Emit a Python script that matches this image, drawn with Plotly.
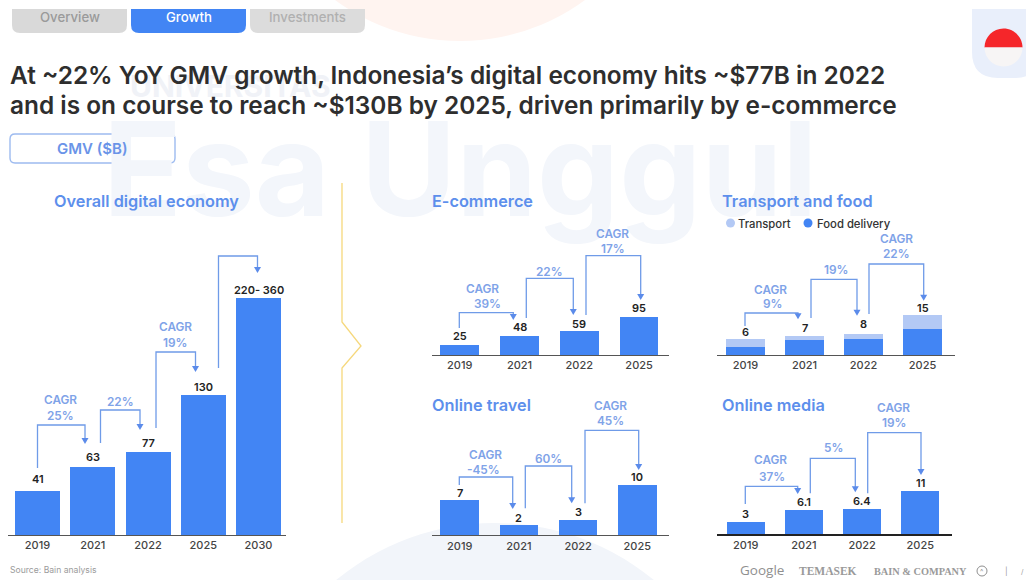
import plotly.graph_objects as go

W, H = 1026, 580
FONT = "Inter"
BLUE = "#4285f4"
LIGHT = "#b3c9f5"
CONN = "#6f9be8"
LABEL = "#7fa3e8"
HEAD = "#5b8bea"
INK = "#2e2e2e"

# ---- values ----
years_overall = ["2019", "2021", "2022", "2025", "2030"]
years_sector = ["2019", "2021", "2022", "2025"]

overall_gmv = [41, 63, 77, 130, 220]
overall_labels = ["41", "63", "77", "130", "220- 360"]
ecommerce_gmv = [25, 48, 59, 95]
ecommerce_labels = ["25", "48", "59", "95"]
food_delivery_gmv = [2.9, 5.7, 6.2, 9.7]
transport_gmv = [3.1, 1.3, 1.8, 5.3]
transport_food_labels = ["6", "7", "8", "15"]
travel_gmv = [7, 2, 3, 10]
travel_labels = ["7", "2", "3", "10"]
media_gmv = [3, 6.1, 6.4, 11]
media_labels = ["3", "6.1", "6.4", "11"]

headline = [
    "At ~22% YoY GMV growth, Indonesia’s digital economy hits ~$77B in 2022",
    "and is on course to reach ~$130B by 2025, driven primarily by e-commerce",
]
tab_names = ["Overview", "Growth", "Investments"]


def px(x):
    return x / W


def py(y):
    return 1 - y / H


shapes = []
annotations = []


def text(x, y, s, size=11, color=INK, anchor="center", weight=400, family=FONT, **kw):
    annotations.append(dict(
        x=px(x), y=py(y), xref="paper", yref="paper", text=s, showarrow=False,
        xanchor=anchor, yanchor="middle", borderpad=0, borderwidth=0,
        font=dict(size=size, color=color, family=family, weight=weight), **kw))


def path(points, close=False):
    d = "M" + " L".join(f"{px(x):.5f},{py(y):.5f}" for x, y in points)
    return d + (" Z" if close else "")


def pt(x, y):
    return f"{px(x):.5f},{py(y):.5f}"


def rounded_bottom(x0, x1, y0, y1, r=8):
    return (f"M{pt(x0, y0)} L{pt(x1, y0)} L{pt(x1, y1 - r)} Q{pt(x1, y1)} {pt(x1 - r, y1)} "
            f"L{pt(x0 + r, y1)} Q{pt(x0, y1)} {pt(x0, y1 - r)} Z")


def rounded_box(x0, x1, y0, y1, r=5):
    return (f"M{pt(x0 + r, y0)} L{pt(x1 - r, y0)} Q{pt(x1, y0)} {pt(x1, y0 + r)} L{pt(x1, y1 - r)} "
            f"Q{pt(x1, y1)} {pt(x1 - r, y1)} L{pt(x0 + r, y1)} Q{pt(x0, y1)} {pt(x0, y1 - r)} "
            f"L{pt(x0, y0 + r)} Q{pt(x0, y0)} {pt(x0 + r, y0)} Z")


def half_disc(cx, cy, r, sign):
    k = 0.5523 * r
    tip = cy + sign * r
    return (f"M{pt(cx - r, cy)} C{pt(cx - r, cy + sign * k)} {pt(cx - k, tip)} {pt(cx, tip)} "
            f"C{pt(cx + k, tip)} {pt(cx + r, cy + sign * k)} {pt(cx + r, cy)} Z")


def add_shape(**kw):
    kw.setdefault("xref", "paper")
    kw.setdefault("yref", "paper")
    kw.setdefault("layer", "below")
    shapes.append(kw)


def circle(cx, cy, r, fill, line=None, layer="below"):
    add_shape(type="circle", x0=px(cx - r), x1=px(cx + r), y0=py(cy + r), y1=py(cy - r),
              fillcolor=fill, line=dict(width=1 if line else 0, color=line or fill), layer=layer)


# ---- page backdrop ----
circle(460, -170, 211, "#fff4f0")
circle(495, 773, 250, "#f2f5fa")
add_shape(type="path", path=rounded_bottom(972, 1040, 9, 78, r=26), fillcolor="#e9effb",
          line=dict(width=0))
text(130, 86, "UNIVERSITAS", size=30, color="#f0f2f7", anchor="left", weight=700)
text(460, 168, "Esa Unggul", size=130, color="#f3f6fb", weight=700)

# Tabs along the top edge
tab_x = [(12, 127), (131, 246), (250, 365)]
tab_fill = ["#d9d9d9", BLUE, "#dcdcdc"]
tab_ink = ["#9a9a9a", "#ffffff", "#b0b0b0"]
for name, (x0, x1), fill, ink in zip(tab_names, tab_x, tab_fill, tab_ink):
    add_shape(type="path", path=rounded_bottom(x0, x1, 9, 33), fillcolor=fill, line=dict(width=0))
    text((x0 + x1) / 2, 16.5, name, size=13.2, color=ink, weight=500)

# Flag badge
add_shape(type="path", path=half_disc(1003.5, 47.5, 19, -1), fillcolor="#f5262a", line=dict(width=0))
add_shape(type="path", path=half_disc(1003.5, 47.5, 19, 1), fillcolor="#f7f5f5", line=dict(width=0))

# Headline
text(10, 75, headline[0], size=24.4, color=INK, anchor="left", weight=600)
text(10, 105, headline[1], size=24.4, color=INK, anchor="left", weight=600)

# Unit box
add_shape(type="path", path=rounded_box(10, 175, 134, 163), fillcolor="#ffffff",
          line=dict(width=1.4, color="#9dbbf0"))
text(92.5, 148, "GMV ($B)", size=15, color="#6a94e8", weight=600)

# Divider with chevron between the overall panel and the sector panels
add_shape(type="path", path=path([(342, 183), (342, 322), (361, 346), (342, 368), (342, 523)]),
          line=dict(width=1.3, color="#f6d87c"))

# Sources and partner marks
text(10, 570, "Source: Bain analysis", size=8.6, color="#9b9b9b", anchor="left")
text(740, 570, "Google", size=13.5, color="#8f8f8f", anchor="left", family="Open Sans")
text(799, 571, "TEMASEK", size=11.5, color="#9a9a9a", anchor="left", family="Liberation Serif", weight=700)
text(874, 571, "BAIN &amp; COMPANY", size=10.3, color="#9a9a9a", anchor="left", family="Liberation Serif", weight=700)
circle(982, 571, 5, "rgba(255,255,255,0)", line="#8f8f8f", layer="above")
text(982, 571, "^", size=7, color="#8f8f8f")
text(1006, 571, "|", size=8, color="#9a9a9a")
text(1022, 571, "/", size=7, color="#9a9a9a")

# ---- chart panels ----
# left/right: axis-line extent, c0/step: first bar centre and spacing, base: baseline,
# scale: pixels per $B, top: plot top edge, barw: bar width (pixels).
panels = [
    dict(title="Overall digital economy", tx=54, ty=201, left=8, right=286, c0=37.5, step=55.25,
         base=535, scale=1.077, top=250, barw=45, years=years_overall,
         series=[(overall_gmv, BLUE)], labels=overall_labels, gaps=[12, 10, 9, 8, 8.5],
         axis="#555555", axisw=1.2),
    dict(title="E-commerce", tx=432, ty=201, left=431.7, right=669, c0=459.7, step=59.8,
         base=355, scale=0.4, top=230, barw=38.7, years=years_sector,
         series=[(ecommerce_gmv, BLUE)], labels=ecommerce_labels, gaps=[8.8, 8.8, 7.7, 9.5],
         axis="#555555", axisw=1.2),
    dict(title="Transport and food", tx=722, ty=201, left=717.3, right=955.3, c0=745.5, step=59,
         base=355, scale=2.65, top=230, barw=39, years=years_sector,
         series=[(food_delivery_gmv, BLUE), (transport_gmv, LIGHT)], labels=transport_food_labels,
         gaps=[7, 8.7, 9.7, 7.3], axis="#555555", axisw=1.2),
    dict(title="Online travel", tx=432, ty=405, left=431.7, right=669, c0=459.7, step=59.2,
         base=535.3, scale=5, top=420, barw=38.7, years=years_sector,
         series=[(travel_gmv, BLUE)], labels=travel_labels, gaps=[7, 7, 8, 8],
         axis="#555555", axisw=1.2),
    dict(title="Online media", tx=722, ty=405, left=717.3, right=952.3, c0=745.7, step=58.2,
         base=534, scale=3.95, top=420, barw=38, years=years_sector,
         series=[(media_gmv, BLUE)], labels=media_labels, gaps=[8.5, 7.5, 7.5, 8],
         axis="#222222", axisw=1.5),
]

# Each connector: rise start x, foot y, shelf y, drop x, arrow tip y
connectors = [
    [(37.5, 468, 425, 85, 444), (100.5, 443, 410, 140, 430), (156, 428, 352, 195.5, 372),
     (218.5, 368, 256, 257.5, 273)],
    [(459.3, 328, 312.7, 513.3, 320), (526.3, 318, 278.3, 573.3, 315), (586, 315, 255.7, 640.7, 300)],
    [(745, 326, 313, 798, 319.3), (811, 318, 279.3, 857, 315.7), (869, 314, 264, 923.7, 300.7)],
    [(459.3, 485, 477, 512.7, 509), (525.3, 508.3, 466, 571.7, 503.3), (585, 503.3, 430.3, 638.7, 470)],
    [(745.3, 504, 486.3, 797.7, 494), (810.3, 493.3, 458.3, 855.3, 492.3), (867.7, 493.3, 432.7, 921, 475)],
]

growth_notes = [
    [(60.5, 400, "CAGR"), (60.5, 416, "25%"), (120.5, 402, "22%"), (175, 327, "CAGR"), (175, 343, "19%")],
    [(482, 288.5, "CAGR"), (487, 304, "39%"), (549.5, 272, "22%"), (612.5, 234, "CAGR"), (613, 249, "17%")],
    [(770.5, 289.5, "CAGR"), (772.5, 304, "9%"), (836, 270, "19%"), (896, 239, "CAGR"), (896, 254, "22%")],
    [(485.5, 455, "CAGR"), (483, 470, "-45%"), (548, 458.5, "60%"), (610.5, 406, "CAGR"), (610.5, 420.5, "45%")],
    [(770, 460, "CAGR"), (771.5, 477, "37%"), (833, 448, "5%"), (893, 408, "CAGR"), (894, 422.5, "19%")],
]

fig = go.Figure()
axes = {}
for i, p in enumerate(panels):
    suffix = "" if i == 0 else str(i + 1)
    xa, ya = f"x{suffix}", f"y{suffix}"
    for values, colour in p["series"]:
        fig.add_trace(go.Bar(x=p["years"], y=values, xaxis=xa, yaxis=ya,
                             marker=dict(color=colour, line=dict(width=0)),
                             width=p["barw"] / p["step"], showlegend=False, hoverinfo="x+y"))
    axes[f"xaxis{suffix}"] = dict(
        domain=[px(p["left"]), px(p["right"])], anchor=ya, type="category",
        range=[(p["left"] - p["c0"]) / p["step"], (p["right"] - p["c0"]) / p["step"]],
        showgrid=False, zeroline=False, showline=True, linecolor=p["axis"], linewidth=p["axisw"],
        ticks="", fixedrange=True, tickfont=dict(size=11, color="#444444", family=FONT, weight=500))
    axes[f"yaxis{suffix}"] = dict(
        domain=[py(p["base"]), py(p["top"])], anchor=xa,
        range=[0, (p["base"] - p["top"]) / p["scale"]], visible=False, fixedrange=True)

    # Value labels sit just above the top of each stack; category axes address bars by index
    totals = [sum(v) for v in zip(*[s[0] for s in p["series"]])]
    for j, (total, lab, gap) in enumerate(zip(totals, p["labels"], p["gaps"])):
        annotations.append(dict(
            x=j, y=total, xref=xa, yref=ya, text=lab, showarrow=False, yanchor="middle",
            yshift=gap, borderpad=0, font=dict(size=11, color="#222222", family=FONT, weight=600)))

    text(p["tx"], p["ty"], p["title"], size=16.3, color="#5d8fec", anchor="left", weight=600)

    for x0, foot, shelf, x1, tip in connectors[i]:
        add_shape(type="path", path=path([(x0, foot), (x0, shelf), (x1, shelf), (x1, tip - 5)]),
                  line=dict(width=1.3, color=CONN), layer="above")
        add_shape(type="path", path=path([(x1 - 3.5, tip - 6), (x1 + 3.5, tip - 6), (x1, tip)], close=True),
                  fillcolor=HEAD, line=dict(width=0), layer="above")
    for x, y, s in growth_notes[i]:
        text(x, y, s, size=11.8, color=LABEL, weight=600)

# Transport / food legend
circle(730.5, 223, 4.5, LIGHT)
text(738, 224, "Transport", size=11.3, color="#333333", anchor="left", weight=500)
circle(808, 223, 4.5, BLUE)
text(817, 224, "Food delivery", size=11.3, color="#333333", anchor="left", weight=500)

fig.update_layout(
    width=W, height=H, autosize=False, margin=dict(l=0, r=0, t=0, b=0, pad=0),
    paper_bgcolor="#ffffff", plot_bgcolor="rgba(0,0,0,0)", barmode="stack",
    shapes=shapes, annotations=annotations, showlegend=False, font=dict(family=FONT),
    **axes)

fig.write_html("out.html", config=dict(displayModeBar=False))
